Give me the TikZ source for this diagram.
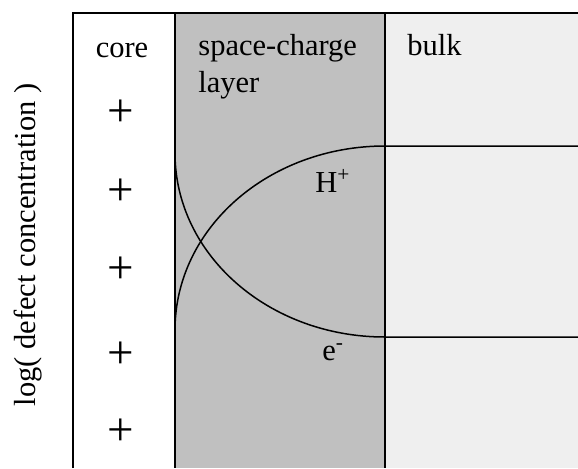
\documentclass[tikz,border=0pt]{standalone}
\usepackage{fontspec}
\setmainfont{Liberation Serif}
\usetikzlibrary{positioning}
\definecolor{sclgray}{HTML}{C0C0C0}
\definecolor{bulkgray}{HTML}{EFEFEF}
\tikzset{
  lbl/.style   ={inner sep=0pt,font=\fontsize{15.25}{18.5}\selectfont},
  twoline/.style={lbl,align=left},
  charge/.style={inner sep=0pt,font=\fontsize{23.5}{24}\selectfont},
  frame/.style ={line width=1pt},
  profile/.style={line width=0.75pt}
}
\begin{document}
\begin{tikzpicture}[x=0.5pt,y=-0.5pt]
  \useasboundingbox (0,0) rectangle (578,468);
  % Regions
  \fill[bulkgray] (385,13) rectangle (578,468);
  \fill[sclgray]  (175,13) rectangle (385,468);
  \draw[frame] (73,468) -- (73,13) -- (578,13);
  \draw[frame] (175,13) -- (175,468);
  \draw[frame] (385,13) -- (385,468);

  % Nodes
  \node (core) [lbl, anchor=base]      at (122,57) {core};
  \node (scl)  [twoline, anchor=base west] at (198,92) {space-charge\\layer};
  \node (bulk) [lbl, anchor=base west] at (407,55) {bulk};
  \node (hplus)[lbl, anchor=base west] at (315,192) {H\textsuperscript{+}};
  \node (elec) [lbl, anchor=base west] at (322,360) {e\textsuperscript{-}};
  \node (ylab) [lbl, anchor=base, rotate=90] at (35,245) {log( defect concentration )};
  \foreach \y [count=\i] in {113,192,270,355,432}
    \node (plus\i) [charge] at (121,\y) {+};

  % Profiles
  \draw[profile] (175,330) .. controls (175,228) and (269,146) .. (385,146) -- (578,146);
  \draw[profile] (175,153) .. controls (175,255) and (269,337) .. (385,337) -- (578,337);
\end{tikzpicture}
\end{document}
